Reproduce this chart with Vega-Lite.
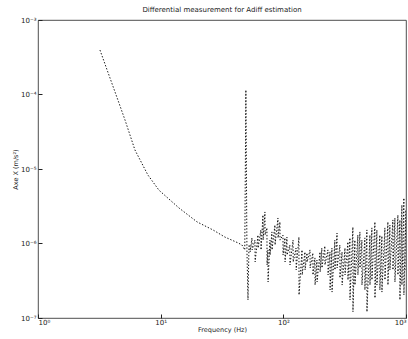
{
  "$schema": "https://vega.github.io/schema/vega-lite/v6.json",
  "width": 368,
  "height": 298,
  "autosize": {"type": "none"},
  "padding": {"left": 38, "top": 20, "right": 2, "bottom": 21},
  "background": "white",
  "config": {
    "view": {"stroke": "#222", "strokeWidth": 0.8},
    "font": "DejaVu Sans"
  },
  "title": {
    "text": "Differential measurement for Adiff estimation",
    "fontSize": 7,
    "fontWeight": "normal",
    "color": "#222",
    "offset": 3
  },
  "data": {
    "values": [
      {"f": 3.2, "a": 3.95e-4},
      {"f": 3.86, "a": 1.67e-4},
      {"f": 4.57, "a": 7.7e-5},
      {"f": 5.12, "a": 4.55e-5},
      {"f": 6.17, "a": 1.8e-5},
      {"f": 7.87, "a": 8.3e-6},
      {"f": 9.68, "a": 5.2e-6},
      {"f": 14.1, "a": 3.0e-6},
      {"f": 19.8, "a": 1.95e-6},
      {"f": 26.7, "a": 1.52e-6},
      {"f": 33.4, "a": 1.22e-6},
      {"f": 42.7, "a": 1.02e-6},
      {"f": 46.0, "a": 9.55e-7},
      {"f": 48.5, "a": 8.2e-7},
      {"f": 49.5, "a": 1.15e-4},
      {"f": 50.5, "a": 8.2e-7},
      {"f": 51.5, "a": 1.75e-7},
      {"f": 52.5, "a": 9.55e-7},
      {"f": 53.4, "a": 9.55e-7}, {"f": 53.6, "a": 7.7e-7},
      {"f": 55.5, "a": 1.19e-6}, {"f": 55.7, "a": 8.2e-7},
      {"f": 58.7, "a": 1.11e-6}, {"f": 58.9, "a": 5.65e-7},
      {"f": 62.1, "a": 1.3e-6}, {"f": 62.3, "a": 8.7e-7},
      {"f": 65.6, "a": 1.52e-6}, {"f": 65.8, "a": 8.2e-7},
      {"f": 68.2, "a": 2.41e-6}, {"f": 68.4, "a": 1.11e-6},
      {"f": 70.8, "a": 2.65e-6}, {"f": 71.0, "a": 1.3e-6},
      {"f": 73.5, "a": 1.62e-6}, {"f": 73.7, "a": 5.15e-7},
      {"f": 74.9, "a": 8.2e-7}, {"f": 75.1, "a": 3.04e-7},
      {"f": 77.8, "a": 1.11e-6}, {"f": 78.0, "a": 7.0e-7},
      {"f": 80.7, "a": 1.43e-6}, {"f": 80.9, "a": 8.2e-7},
      {"f": 85.4, "a": 1.77e-6}, {"f": 85.6, "a": 9.55e-7},
      {"f": 90.4, "a": 2.2e-6}, {"f": 90.6, "a": 1.19e-6},
      {"f": 93.8, "a": 1.95e-6}, {"f": 94.0, "a": 1.11e-6},
      {"f": 99.3, "a": 1.3e-6}, {"f": 99.5, "a": 7.0e-7},
      {"f": 103, "a": 1.19e-6}, {"f": 103.3, "a": 5.65e-7},
      {"f": 107, "a": 1.22e-6}, {"f": 107.3, "a": 7.0e-7},
      {"f": 113, "a": 9.55e-7}, {"f": 113.3, "a": 5.15e-7},
      {"f": 120, "a": 1.11e-6}, {"f": 120.3, "a": 5.65e-7},
      {"f": 127, "a": 8.7e-7}, {"f": 127.3, "a": 4.41e-7},
      {"f": 134, "a": 1.22e-6}, {"f": 134.3, "a": 2.04e-7},
      {"f": 142, "a": 8.2e-7}, {"f": 142.4, "a": 3.78e-7},
      {"f": 150, "a": 7.7e-7}, {"f": 150.4, "a": 4.41e-7},
      {"f": 156, "a": 7.45e-7}, {"f": 156.4, "a": 5.65e-7},
      {"f": 165, "a": 8.2e-7}, {"f": 165.4, "a": 4.69e-7},
      {"f": 174, "a": 7.45e-7}, {"f": 174.4, "a": 3.78e-7},
      {"f": 181, "a": 6.4e-7}, {"f": 181.4, "a": 2.77e-7},
      {"f": 188, "a": 6.0e-7}, {"f": 188.4, "a": 3.04e-7},
      {"f": 199, "a": 7.7e-7}, {"f": 199.5, "a": 4.14e-7},
      {"f": 206, "a": 8.7e-7}, {"f": 206.5, "a": 4.69e-7},
      {"f": 218, "a": 9.25e-7}, {"f": 218.5, "a": 5.15e-7},
      {"f": 231, "a": 8.2e-7}, {"f": 231.5, "a": 3.78e-7},
      {"f": 240, "a": 7.7e-7}, {"f": 240.5, "a": 2.38e-7},
      {"f": 249, "a": 8.7e-7}, {"f": 249.5, "a": 2.23e-7},
      {"f": 263, "a": 1.11e-6}, {"f": 263.5, "a": 4.41e-7},
      {"f": 274, "a": 1.38e-6}, {"f": 274.5, "a": 4.69e-7},
      {"f": 289, "a": 9.55e-7}, {"f": 289.5, "a": 3.44e-7},
      {"f": 301, "a": 7.7e-7}, {"f": 301.5, "a": 2.77e-7},
      {"f": 318, "a": 8.7e-7}, {"f": 318.5, "a": 3.78e-7},
      {"f": 336, "a": 1.05e-6}, {"f": 336.5, "a": 3.24e-7},
      {"f": 349, "a": 1.19e-6}, {"f": 349.5, "a": 1.75e-7},
      {"f": 369, "a": 1.66e-6}, {"f": 369.5, "a": 1.21e-7},
      {"f": 383, "a": 1.11e-6}, {"f": 383.5, "a": 2.77e-7},
      {"f": 405, "a": 1.3e-6}, {"f": 405.5, "a": 3.78e-7},
      {"f": 421, "a": 1.43e-6}, {"f": 421.5, "a": 4.69e-7},
      {"f": 437, "a": 1.11e-6}, {"f": 437.5, "a": 2.77e-7},
      {"f": 462, "a": 1.19e-6}, {"f": 462.5, "a": 2.38e-7},
      {"f": 480, "a": 1.52e-6}, {"f": 480.5, "a": 1.21e-7},
      {"f": 508, "a": 1.3e-6}, {"f": 508.5, "a": 2.77e-7},
      {"f": 527, "a": 1.62e-6}, {"f": 527.5, "a": 3.24e-7},
      {"f": 558, "a": 1.95e-6}, {"f": 558.5, "a": 1.85e-7},
      {"f": 579, "a": 1.52e-6}, {"f": 579.5, "a": 2.77e-7},
      {"f": 612, "a": 1.3e-6}, {"f": 612.5, "a": 2.38e-7},
      {"f": 636, "a": 1.26e-6}, {"f": 636.5, "a": 2.23e-7},
      {"f": 673, "a": 1.62e-6}, {"f": 673.5, "a": 3.24e-7},
      {"f": 712, "a": 1.95e-6}, {"f": 712.5, "a": 2.77e-7},
      {"f": 739, "a": 1.77e-6}, {"f": 739.5, "a": 4.41e-7},
      {"f": 782, "a": 2.07e-6}, {"f": 782.5, "a": 4.41e-7},
      {"f": 812, "a": 2.2e-6}, {"f": 812.5, "a": 3.04e-7},
      {"f": 859, "a": 2.41e-6}, {"f": 859.5, "a": 3.78e-7},
      {"f": 892, "a": 2.07e-6}, {"f": 892.5, "a": 1.75e-7},
      {"f": 926, "a": 3.29e-6}, {"f": 926.5, "a": 2.77e-7},
      {"f": 961, "a": 4.08e-6}, {"f": 961.5, "a": 2.04e-7},
      {"f": 999, "a": 2.82e-6}, {"f": 1000, "a": 4.41e-7}
    ]
  },
  "mark": {"type": "line", "color": "#111", "strokeWidth": 1, "strokeDash": [1.4, 1.8], "clip": true},
  "encoding": {
    "x": {
      "field": "f",
      "type": "quantitative",
      "scale": {"type": "log", "domain": [1, 1000], "nice": false},
      "axis": {
        "title": "Frequency (Hz)",
        "titleFontSize": 6.5,
        "titleFontWeight": "normal",
        "titleColor": "#222",
        "titlePadding": 1,
        "values": [1, 10, 100, 1000],
        "labelExpr": "datum.value == 1 ? '10⁰' : datum.value == 10 ? '10¹' : datum.value == 100 ? '10²' : '10³'",
        "labelFontSize": 7,
        "labelColor": "#222",
        "labelPadding": 4,
        "tickSize": -4,
        "tickColor": "#222",
        "domain": false,
        "grid": false,
        "labelFlush": true,
        "labelOverlap": false
      }
    },
    "y": {
      "field": "a",
      "type": "quantitative",
      "scale": {"type": "log", "domain": [1e-7, 1e-3], "nice": false},
      "axis": {
        "title": "Axe X (m/s²)",
        "titleFontSize": 6.5,
        "titleFontWeight": "normal",
        "titleColor": "#222",
        "titlePadding": 2,
        "values": [1e-7, 1e-6, 1e-5, 1e-4, 1e-3],
        "labelExpr": "datum.value < 5e-7 ? '10⁻⁷' : datum.value < 5e-6 ? '10⁻⁶' : datum.value < 5e-5 ? '10⁻⁵' : datum.value < 5e-4 ? '10⁻⁴' : '10⁻³'",
        "labelFontSize": 7,
        "labelColor": "#222",
        "labelPadding": 6,
        "tickSize": -4,
        "tickColor": "#222",
        "domain": false,
        "grid": false,
        "labelFlush": false,
        "labelOverlap": false
      }
    }
  }
}
